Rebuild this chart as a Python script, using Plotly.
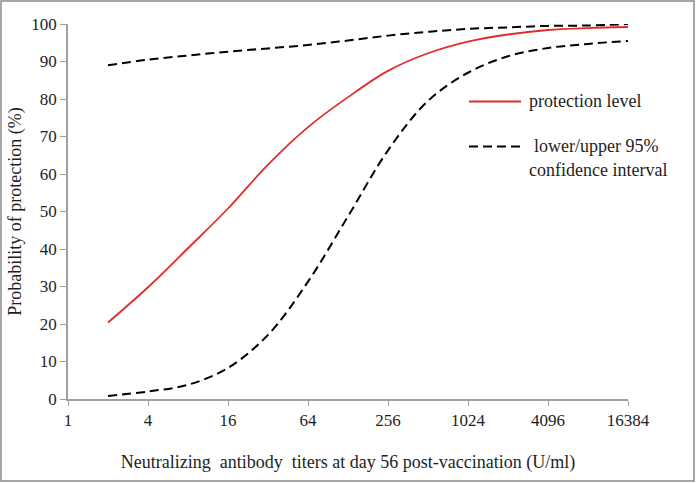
import math
import plotly.graph_objects as go

titers = [2, 4, 8, 16, 32, 64, 128, 256, 512, 1024, 2048, 4096, 8192, 16384]
protection = [20.4, 29.8, 40.2, 50.8, 62.5, 72.5, 80.5, 87.5, 92.2, 95.3, 97.2, 98.4, 98.9, 99.2]
upper_ci = [89.0, 90.5, 91.6, 92.6, 93.5, 94.4, 95.6, 96.9, 97.9, 98.7, 99.1, 99.5, 99.6, 100.0]
lower_ci = [0.8, 2.0, 3.8, 8.3, 17.1, 31.3, 48.7, 66.3, 79.5, 87.0, 91.4, 93.6, 94.7, 95.5]

x_ticks = [1, 4, 16, 64, 256, 1024, 4096, 16384]
x_ticklabels = ["1", "4", "16", "64", "256", "1024", "4096", "16384"]
y_ticks = list(range(0, 101, 10))

legend_labels = ["protection level", "lower/upper 95%", "confidence interval"]

W, H = 696, 483
ML, MR, MT, MB = 68, 68, 24, 84
PW, PH = W - ML - MR, H - MT - MB

FONT = "Liberation Serif"
TXT = "#1e1e1e"
AXIS_GRAY = "#a0a0a0"
RED = "#e32b2b"
DASH = "9px,5px"


def px_x(px):
    return (px - ML) / PW


def px_y(py):
    return 1 - (py - MT) / PH


fig = go.Figure()
fig.add_trace(go.Scatter(
    x=titers, y=protection, mode="lines", name=legend_labels[0],
    line=dict(color=RED, width=1.8, shape="spline", smoothing=1.0),
))
fig.add_trace(go.Scatter(
    x=titers, y=lower_ci, mode="lines", name="lower",
    line=dict(color="black", width=2, dash=DASH, shape="spline", smoothing=1.0),
))
fig.add_trace(go.Scatter(
    x=titers, y=upper_ci, mode="lines", name="upper",
    line=dict(color="black", width=2, dash=DASH, shape="spline", smoothing=1.0),
))

# outer frame around the whole figure
fig.add_shape(
    type="rect", xref="paper", yref="paper",
    x0=px_x(1), x1=px_x(W - 2), y0=px_y(H - 2), y1=px_y(1),
    line=dict(color="#8a8a8a", width=1.5), fillcolor="rgba(0,0,0,0)", layer="below",
)

# legend (drawn as samples + text)
fig.add_shape(type="line", xref="paper", yref="paper",
              x0=px_x(469), x1=px_x(521), y0=px_y(101.5), y1=px_y(101.5),
              line=dict(color=RED, width=1.8))
fig.add_shape(type="line", xref="paper", yref="paper",
              x0=px_x(469), x1=px_x(521), y0=px_y(146.5), y1=px_y(146.5),
              line=dict(color="black", width=2, dash=DASH))
LEG_SIZE = 18
fig.add_annotation(xref="paper", yref="paper", x=px_x(527), y=px_y(101),
                   text=legend_labels[0], showarrow=False, xanchor="left", yanchor="middle",
                   font=dict(family=FONT, size=LEG_SIZE, color=TXT))
fig.add_annotation(xref="paper", yref="paper", x=px_x(532), y=px_y(146),
                   text=legend_labels[1], showarrow=False, xanchor="left", yanchor="middle",
                   font=dict(family=FONT, size=LEG_SIZE, color=TXT))
fig.add_annotation(xref="paper", yref="paper", x=px_x(527), y=px_y(170),
                   text=legend_labels[2], showarrow=False, xanchor="left", yanchor="middle",
                   font=dict(family=FONT, size=LEG_SIZE, color=TXT))

fig.update_layout(
    width=W, height=H,
    margin=dict(l=ML, r=MR, t=MT, b=MB),
    paper_bgcolor="white", plot_bgcolor="white",
    font=dict(family=FONT, size=17, color=TXT),
    showlegend=False,
)
fig.update_xaxes(
    type="log", range=[0, math.log10(16384)],
    tickmode="array", tickvals=x_ticks, ticktext=x_ticklabels,
    showgrid=False, zeroline=False,
    showline=True, linecolor=AXIS_GRAY, linewidth=1.5,
    ticks="outside", ticklen=5, tickcolor=AXIS_GRAY, tickwidth=1.2,
    tickfont=dict(family=FONT, size=17, color=TXT),
    title=dict(text="Neutralizing  antibody  titers at day 56 post-vaccination (U/ml)",
               font=dict(family=FONT, size=18, color=TXT), standoff=26),
)
fig.update_yaxes(
    range=[0, 100], tickmode="array", tickvals=y_ticks,
    showgrid=False, zeroline=False,
    showline=True, linecolor=AXIS_GRAY, linewidth=1.5,
    ticks="outside", ticklen=6, tickcolor=AXIS_GRAY, tickwidth=1.2,
    tickfont=dict(family=FONT, size=17, color=TXT),
    title=dict(text="Probability of protection (%)",
               font=dict(family=FONT, size=18, color=TXT), standoff=5),
)

fig.write_html("out.html", config={"displayModeBar": False},
               post_script="document.body.style.margin='0';")
